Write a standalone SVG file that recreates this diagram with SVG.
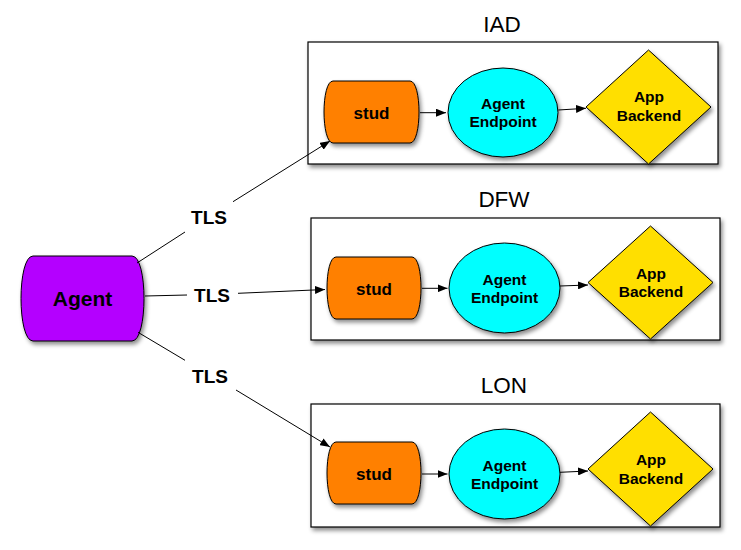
<svg xmlns="http://www.w3.org/2000/svg" width="741" height="550" viewBox="0 0 741 550">
<defs>
<filter id="sh" x="-10%" y="-10%" width="130%" height="140%">
<feDropShadow dx="2" dy="3" stdDeviation="2" flood-color="#000" flood-opacity="0.45"/>
</filter>
<marker id="ah" viewBox="0 0 10 8" refX="10" refY="4" markerWidth="10" markerHeight="8" markerUnits="userSpaceOnUse" orient="auto">
<path d="M0,0 L10,4 L0,8 Z" fill="#000"/>
</marker>
</defs>
<style>
.box{fill:#fff;stroke:#000;stroke-width:1.2;filter:url(#sh)}
.stud{fill:#FF8000;stroke:#000;stroke-width:1;filter:url(#sh)}
.ell{fill:#00FFFF;stroke:#000;stroke-width:1;filter:url(#sh)}
.dia{fill:#FFDF00;stroke:#000;stroke-width:1;filter:url(#sh)}
.agent{fill:#B400FF;stroke:#000;stroke-width:1;filter:url(#sh)}
.t{font-family:"Liberation Sans",Arial,sans-serif;text-anchor:middle;fill:#000}
.region{font-size:22.5px}
.b{font-weight:bold}
.s17{font-size:17px}
.s15{font-size:15.5px}
.tls{font-size:19px}
.ag{font-size:21px}
.c{fill:none;stroke:#000;stroke-width:1}
.ca{fill:none;stroke:#000;stroke-width:1;marker-end:url(#ah)}
</style>

<g id="region-IAD">
<rect class="box" x="308" y="42" width="410" height="122"/>
<text class="t region" x="502" y="32">IAD</text>
</g>
<g id="region-DFW">
<rect class="box" x="311" y="218" width="409" height="122"/>
<text class="t region" x="504" y="207">DFW</text>
</g>
<g id="region-LON">
<rect class="box" x="311" y="404" width="409" height="123"/>
<text class="t region" x="504" y="393">LON</text>
</g>

<g id="agent">
<path class="agent" d="M33,256 H132 C148,256 148,341 132,341 H33 C17,341 17,256 33,256 Z"/>
<text class="t b ag" x="82.5" y="306">Agent</text>
</g>

<g id="iad-stud">
<path class="stud" d="M333,81 H410 C422,81 422,143 410,143 H333 C321,143 321,81 333,81 Z"/>
<text class="t b s17" x="371.5" y="118.5">stud</text>
</g>
<g id="iad-endpoint">
<ellipse class="ell" cx="503" cy="112.5" rx="55" ry="44.5"/>
<text class="t b s15" x="503" y="108.5">Agent</text>
<text class="t b s15" x="503" y="127">Endpoint</text>
</g>
<g id="iad-backend">
<polygon class="dia" points="586,107 648.5,50 711,107 648.5,164"/>
<text class="t b s15" x="649" y="102">App</text>
<text class="t b s15" x="649" y="121">Backend</text>
</g>

<g id="dfw-stud">
<path class="stud" d="M336,257 H412 C424,257 424,319 412,319 H336 C324,319 324,257 336,257 Z"/>
<text class="t b s17" x="374" y="294.5">stud</text>
</g>
<g id="dfw-endpoint">
<ellipse class="ell" cx="504.5" cy="288" rx="55.5" ry="45"/>
<text class="t b s15" x="504.5" y="284.5">Agent</text>
<text class="t b s15" x="504.5" y="303">Endpoint</text>
</g>
<g id="dfw-backend">
<polygon class="dia" points="588,282.5 650.5,226 713,282.5 650.5,339"/>
<text class="t b s15" x="651" y="278.5">App</text>
<text class="t b s15" x="651" y="297">Backend</text>
</g>

<g id="lon-stud">
<path class="stud" d="M336,442 H412 C424,442 424,504 412,504 H336 C324,504 324,442 336,442 Z"/>
<text class="t b s17" x="374" y="479.5">stud</text>
</g>
<g id="lon-endpoint">
<ellipse class="ell" cx="504.5" cy="474" rx="55.5" ry="45"/>
<text class="t b s15" x="504.5" y="470.5">Agent</text>
<text class="t b s15" x="504.5" y="489">Endpoint</text>
</g>
<g id="lon-backend">
<polygon class="dia" points="588,469 650.5,412 713,469 650.5,526"/>
<text class="t b s15" x="651" y="465">App</text>
<text class="t b s15" x="651" y="483.5">Backend</text>
</g>

<g id="connectors">
<line class="c" x1="137" y1="263" x2="185" y2="232"/>
<line class="ca" x1="233" y1="201.7" x2="330" y2="141"/>
<text class="t b tls" x="209" y="224">TLS</text>

<line class="c" x1="145" y1="296" x2="187" y2="295"/>
<line class="ca" x1="238" y1="293.3" x2="325" y2="289.5"/>
<text class="t b tls" x="212" y="301.5">TLS</text>

<line class="c" x1="138" y1="332.3" x2="185" y2="360.3"/>
<line class="ca" x1="236" y1="390" x2="330" y2="447"/>
<text class="t b tls" x="210" y="382.5">TLS</text>

<line class="ca" x1="420" y1="112.7" x2="446" y2="112.7"/>
<line class="ca" x1="558.3" y1="110" x2="586" y2="108.3"/>
<line class="ca" x1="422" y1="288.3" x2="447.5" y2="288.3"/>
<line class="ca" x1="560" y1="286" x2="588" y2="285"/>
<line class="ca" x1="422" y1="474" x2="447.5" y2="474"/>
<line class="ca" x1="560" y1="472.3" x2="588" y2="471"/>
</g>
</svg>
